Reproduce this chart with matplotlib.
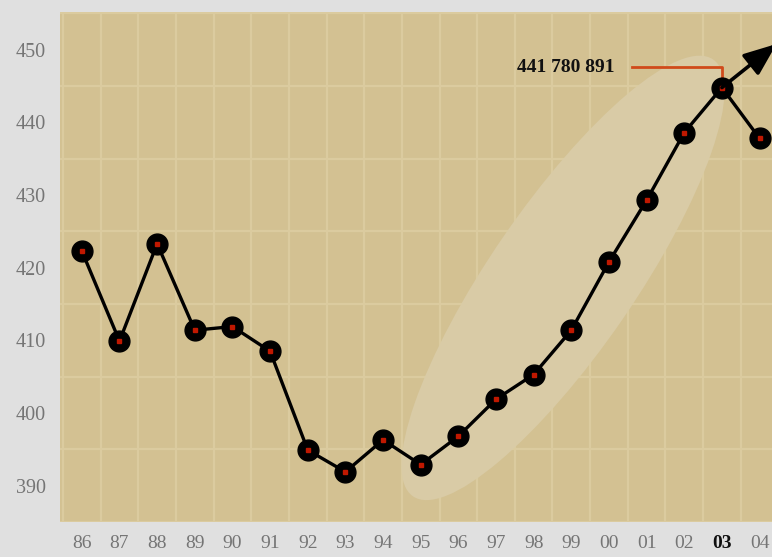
import numpy as np
import matplotlib
matplotlib.use("Agg")
import matplotlib.pyplot as plt
from matplotlib.patches import Ellipse
from matplotlib.transforms import ScaledTranslation

# data
years = ["86", "87", "88", "89", "90", "91", "92", "93", "94", "95",
         "96", "97", "98", "99", "00", "01", "02", "03", "04"]
values = [422.3, 409.9, 423.3, 411.4, 411.9, 408.5, 394.9, 391.9, 396.3, 392.9,
          396.8, 401.9, 405.3, 411.4, 420.8, 429.3, 438.6, 444.8, 437.8]
yticks = [390, 400, 410, 420, 430, 440, 450]
note_text = "441 780 891"

x = np.arange(len(years))

plt.rcParams['font.family'] = ['Liberation Serif', 'DejaVu Serif']

fig = plt.figure(figsize=(7.72, 5.57), dpi=100, facecolor="#e0e0e0")
ax = fig.add_axes([60 / 772, 35 / 557, 712 / 772, 510 / 557])
ax.set_facecolor("#d3c192")

ax.set_xlim(-0.58, 18.33)
ax.set_ylim(385.2, 455.2)

# grid: vertical between years, horizontal every 5
ax.set_xticks(x)
ax.set_xticks(x - 0.5, minor=True)
ax.set_yticks(yticks)
ax.set_yticks(np.arange(385, 460, 5), minor=True)
ax.grid(True, which="minor", color="#dbcb9f", linewidth=1.6)
ax.set_axisbelow(True)
for s in ax.spines.values():
    s.set_visible(False)
ax.tick_params(which="both", length=0)
ax.tick_params(axis="y", pad=10, labelsize=14.5, labelcolor="#757575")
ax.tick_params(axis="x", pad=9, labelsize=14, labelcolor="#757575")
ax.set_xticklabels(years)
ax.set_yticklabels([str(v) for v in yticks])
ax.get_xticklabels()[17].set_color("#101010")
ax.get_xticklabels()[17].set_fontweight("bold")

# highlight ellipse around the rising part
ell_tr = fig.dpi_scale_trans + ScaledTranslation(12.78, 418.6, ax.transData)
ax.add_patch(Ellipse((0, 0), 5.3, 1.45, angle=55.5, transform=ell_tr,
                     facecolor="#d9cba6", edgecolor="none", zorder=1))

# line and markers
ax.plot(x, values, color="black", linewidth=2.4, zorder=3)
ax.plot(x, values, "o", color="black", markersize=15, zorder=4)
ax.plot(x, values, "s", color="#c01800", markersize=3.5, zorder=5)

# arrow out of the last peak
ax.annotate("", xy=(18.45, 450.8), xytext=(x[17], values[17]),
            arrowprops=dict(arrowstyle="-|>,head_length=2.0,head_width=0.8",
                            color="black", linewidth=2.6, shrinkA=0, shrinkB=0),
            annotation_clip=False, zorder=6)

# label with orange leader
ax.plot([14.6, x[17], x[17]], [447.6, 447.6, values[17] + 1.2],
        color="#d04a1a", linewidth=2, zorder=2)
ax.text(14.15, 447.6, note_text, ha="right", va="center", fontsize=14,
        fontweight="bold", color="#111111")

fig.savefig("out.png", dpi=100, facecolor=fig.get_facecolor())
